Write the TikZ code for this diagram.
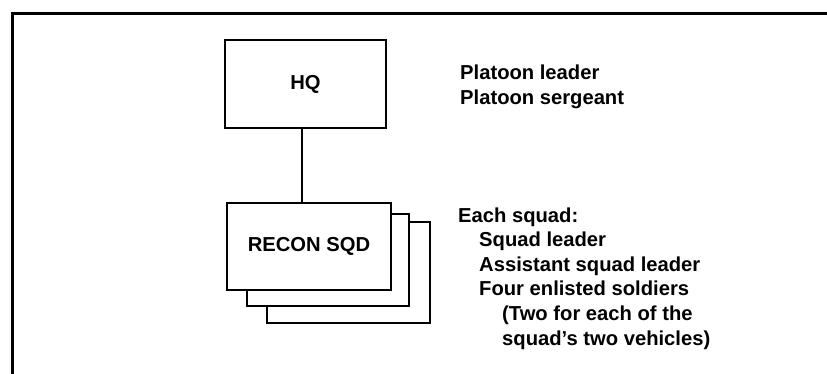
\documentclass[tikz,border=0pt]{standalone}
\usepackage{fontspec}
\setmainfont{Liberation Sans}
\begin{document}
\begin{tikzpicture}[x=1pt,y=-1pt,
  box/.style={draw=black,fill=white,line width=1.6pt,inner sep=0pt,minimum width=#1},
  lbl/.style={anchor=base west,inner sep=0pt,font=\fontsize{20.2}{24}\selectfont\bfseries},
  boxtxt/.style={font=\fontsize{20.2}{24}\selectfont\bfseries}]
\useasboundingbox (0,0) rectangle (827,373);
% frame
\coordinate (fbl) at (12,374);
\coordinate (ftl) at (12,13);
\coordinate (ftr) at (828,13);
\draw[line width=3pt] (fbl) -- (ftl) -- (ftr);
% HQ
\node[box=161pt,minimum height=88pt,boxtxt] (hq) at (305.5,84) {HQ};
% stacked squad boxes
\node[box=163pt,minimum height=101pt] (sq3) at (348.5,272.5) {};
\node[box=162pt,minimum height=92pt] (sq2) at (328,260) {};
\node[box=164pt,minimum height=87pt,boxtxt] (recon) at (309,246.5) {RECON SQD};
\draw[line width=1.6pt] ([xshift=-3.5pt]hq.south) -- ([xshift=-7pt]recon.north);
% texts
\node[lbl] (p1) at (460,79.5) {Platoon leader};
\node[lbl] (p2) at (460,104.5) {Platoon sergeant};
\node[lbl] (t1) at (458,222) {Each squad:};
\node[lbl] (t2) at (479,246.6) {Squad leader};
\node[lbl] (t3) at (479,271.2) {Assistant squad leader};
\node[lbl] (t4) at (479,295.8) {Four enlisted soldiers};
\node[lbl] (t5) at (502,320.4) {(Two for each of the};
\node[lbl] (t6) at (502,345) {squad's two vehicles)};
\end{tikzpicture}
\end{document}
